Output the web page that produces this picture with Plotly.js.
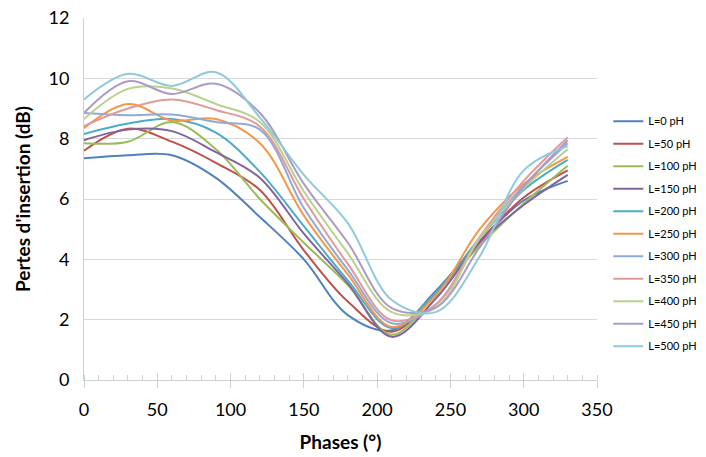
<!DOCTYPE html>
<html>
<head>
<meta charset="utf-8">
<script src="https://cdn.plot.ly/plotly-3.0.1.min.js"></script>
<style>
  html, body { margin: 0; padding: 0; background: #ffffff; }
  #chart { width: 706px; height: 457px; }
</style>
</head>
<body>
<div id="chart"></div>
<script>
// Phases (degrees)
var phases = [0, 30, 60, 90, 120, 150, 180, 210, 240, 270, 300, 330];

// Series names
var seriesNames = ["L=0 pH", "L=50 pH", "L=100 pH", "L=150 pH", "L=200 pH", "L=250 pH",
                   "L=300 pH", "L=350 pH", "L=400 pH", "L=450 pH", "L=500 pH"];

// Insertion loss (dB) for each series
var L0   = [7.35, 7.45, 7.45, 6.70, 5.40, 4.00, 2.15, 1.65, 2.95, 4.60, 5.95, 6.60];
var L50  = [7.60, 8.33, 7.90, 7.20, 6.30, 4.30, 2.60, 1.60, 2.90, 4.60, 6.05, 6.95];
var L100 = [7.85, 7.90, 8.55, 7.65, 6.00, 4.55, 3.15, 1.50, 2.85, 4.45, 5.85, 7.10];
var L150 = [7.95, 8.30, 8.25, 7.55, 6.70, 4.85, 3.20, 1.43, 2.70, 4.55, 5.80, 6.80];
var L200 = [8.15, 8.50, 8.65, 8.20, 6.90, 5.10, 3.30, 1.72, 2.90, 4.70, 6.30, 7.30];
var L250 = [8.35, 9.15, 8.60, 8.65, 7.85, 5.45, 3.50, 1.76, 2.80, 5.00, 6.50, 7.40];
var L300 = [8.85, 8.78, 8.80, 8.55, 8.30, 5.70, 3.65, 1.88, 2.50, 4.70, 6.45, 7.85];
var L350 = [8.42, 9.00, 9.30, 8.95, 8.40, 6.00, 3.85, 1.98, 2.50, 4.75, 6.60, 8.05];
var L400 = [8.65, 9.65, 9.66, 9.15, 8.55, 6.25, 4.20, 2.25, 2.40, 4.70, 6.35, 7.65];
var L450 = [8.85, 9.90, 9.48, 9.82, 8.85, 6.50, 4.55, 2.38, 2.40, 4.40, 6.40, 7.95];
var L500 = [9.30, 10.15, 9.75, 10.20, 8.70, 6.80, 5.20, 2.65, 2.25, 4.10, 6.95, 7.75];

var seriesValues = [L0, L50, L100, L150, L200, L250, L300, L350, L400, L450, L500];

var colors = ["#4F81BD", "#C0504D", "#9BBB59", "#8064A2", "#4BACC6", "#F79646",
              "#8EAADB", "#E09A98", "#B9D08F", "#AC9BC6", "#8FCADC"];

// Axis tick values
var xTicks = [0, 50, 100, 150, 200, 250, 300, 350];
var yTicks = [0, 2, 4, 6, 8, 10, 12];

var FONT = "Lato, 'Open Sans', sans-serif";

var traces = seriesValues.map(function (vals, i) {
  return {
    type: "scatter",
    mode: "lines",
    x: phases,
    y: vals,
    name: seriesNames[i],
    legendgroup: "g" + i,
    line: { color: colors[i], width: 2, shape: "spline", smoothing: 1 },
    hoverinfo: "skip"
  };
});

// overlay (invisible) trace so the crossing major ticks on the x axis are drawn
traces.push({
  type: "scatter", mode: "lines", x: [0, 350], y: [0, 0],
  xaxis: "x2", yaxis: "y", showlegend: false, hoverinfo: "skip",
  line: { color: "rgba(0,0,0,0)", width: 0 }
});

var layout = {
  width: 706,
  height: 457,
  margin: { l: 84, r: 109, t: 18, b: 77, autoexpand: false },
  paper_bgcolor: "#ffffff",
  plot_bgcolor: "#ffffff",
  font: { family: FONT, color: "#000000" },
  showlegend: true,
  legend: {
    x: 1.022, y: 0.755, xanchor: "left", yanchor: "top",
    font: { family: FONT, size: 11, color: "#000000" },
    traceorder: "grouped",
    tracegroupgap: 3.5,
    itemwidth: 30,
    bgcolor: "rgba(0,0,0,0)"
  },
  xaxis: {
    range: [0, 350],
    tickvals: xTicks,
    ticktext: xTicks.map(String),
    ticks: "outside",
    ticklen: 7,
    tickcolor: "#D0D0D0",
    tickwidth: 1,
    minor: { dtick: 10, ticks: "inside", ticklen: 5, tickcolor: "#D0D0D0", tickwidth: 1, showgrid: false },
    showline: true,
    linecolor: "#D0D0D0",
    linewidth: 1,
    showgrid: false,
    zeroline: false,
    tickfont: { family: FONT, size: 18, color: "#000000" },
    ticklabelstandoff: 6,
    title: { text: "<b>Phases (°)</b>", font: { family: FONT, size: 19, color: "#000000" }, standoff: 17 },
    fixedrange: true
  },
  xaxis2: {
    overlaying: "x",
    range: [0, 350],
    tickvals: xTicks,
    ticks: "inside",
    ticklen: 7,
    tickcolor: "#D0D0D0",
    showticklabels: false,
    showgrid: false,
    showline: false,
    zeroline: false,
    side: "bottom",
    anchor: "y"
  },
  yaxis: {
    range: [0, 12],
    tickvals: yTicks,
    ticktext: yTicks.map(String),
    ticks: "",
    showline: true,
    linecolor: "#D0D0D0",
    linewidth: 1,
    showgrid: true,
    gridcolor: "#D9D9D9",
    gridwidth: 1,
    zeroline: false,
    tickfont: { family: FONT, size: 18, color: "#000000" },
    ticklabelstandoff: 10,
    title: { text: "<b>Pertes d'insertion (dB)</b>", font: { family: FONT, size: 19, color: "#000000" }, standoff: 12 },
    fixedrange: true
  }
};

Plotly.newPlot("chart", traces, layout, { staticPlot: true, displayModeBar: false });
</script>
</body>
</html>
